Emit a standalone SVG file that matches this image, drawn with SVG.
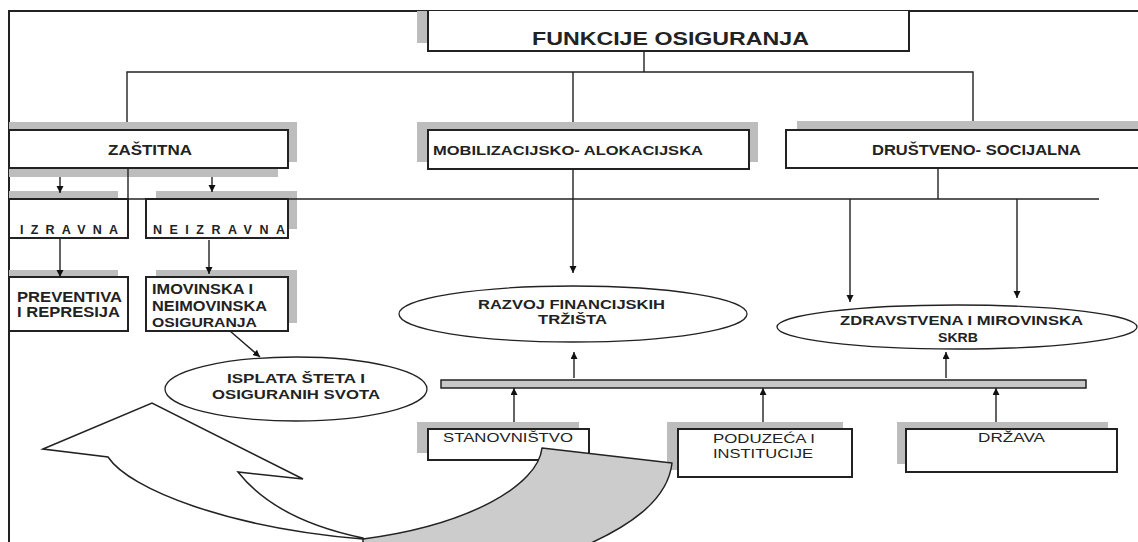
<svg xmlns="http://www.w3.org/2000/svg" width="1138" height="542" viewBox="0 0 1138 542">
<defs>
<marker id="ah" markerUnits="userSpaceOnUse" markerWidth="8" markerHeight="8" refX="7" refY="3.5" orient="auto"><path d="M0,0 L7,3.5 L0,7 z" fill="#111"/></marker>
</defs>
<style>
.sh{fill:#bdbdbd}
.box{fill:#fff;stroke:#222;stroke-width:2}
.ell{fill:#fff;stroke:#222;stroke-width:1.3}
.c{stroke:#222;stroke-width:1.4;fill:none}
.a{marker-end:url(#ah)}
text{font-family:"Liberation Sans",Arial,sans-serif;fill:#222}
.b{font-weight:bold}
.n{font-weight:normal}
</style>
<rect width="1138" height="542" fill="#fff"/>
<path d="M9,542 V11 H1138" fill="none" stroke="#222" stroke-width="2"/>

<g id="funkcije">
<rect class="sh" x="417" y="11" width="11" height="32"/>
<path d="M428,11 V51 H909 V11" fill="#fff" stroke="#222" stroke-width="2"/>
<text class="b" x="532" y="45" font-size="18" textLength="277" lengthAdjust="spacingAndGlyphs">FUNKCIJE OSIGURANJA</text>
</g>

<g id="zastitna">
<rect class="sh" x="9" y="122" width="288" height="8"/>
<rect class="sh" x="288" y="122" width="9" height="40"/>
<rect class="sh" x="9" y="168" width="269" height="9"/>
<rect class="box" x="9" y="130" width="279" height="38"/>
<text class="b" x="108" y="155" font-size="14" textLength="84" lengthAdjust="spacingAndGlyphs">ZAŠTITNA</text>
</g>

<g id="mobilizacijsko">
<rect class="sh" x="417" y="122" width="341" height="40"/>
<rect class="box" x="428" y="130" width="321" height="39"/>
<text class="b" x="433" y="155" font-size="13.5" textLength="270" lengthAdjust="spacingAndGlyphs">MOBILIZACIJSKO- ALOKACIJSKA</text>
</g>

<g id="drustveno">
<rect class="sh" x="797" y="121" width="341" height="8"/>
<rect class="box" x="786" y="130" width="360" height="38"/>
<text class="b" x="872" y="155" font-size="14" textLength="209" lengthAdjust="spacingAndGlyphs">DRUŠTVENO- SOCIJALNA</text>
</g>

<g id="izravna">
<rect class="sh" x="9" y="191" width="109" height="8"/>
<rect class="box" x="9" y="199" width="119" height="39"/>
<text class="b" x="20" y="234" font-size="12.5" textLength="98" lengthAdjust="spacing">IZRAVNA</text>
</g>

<g id="neizravna">
<rect class="sh" x="156" y="191" width="141" height="8"/>
<rect class="sh" x="288" y="191" width="9" height="38"/>
<rect class="box" x="146" y="199" width="142" height="39"/>
<text class="b" x="153" y="234" font-size="12.5" textLength="132" lengthAdjust="spacing">NEIZRAVNA</text>
</g>

<g id="preventiva">
<rect class="sh" x="9" y="270" width="109" height="7"/>
<rect class="box" x="9" y="277" width="119" height="54"/>
<text class="b" x="17" y="302" font-size="14" textLength="105" lengthAdjust="spacingAndGlyphs">PREVENTIVA</text>
<text class="b" x="17" y="317" font-size="14" textLength="103" lengthAdjust="spacingAndGlyphs">I REPRESIJA</text>
</g>

<g id="imovinska">
<rect class="sh" x="156" y="270" width="141" height="7"/>
<rect class="sh" x="288" y="270" width="9" height="53"/>
<rect class="box" x="146" y="277" width="142" height="54"/>
<text class="b" x="152" y="294" font-size="14" textLength="101" lengthAdjust="spacingAndGlyphs">IMOVINSKA I</text>
<text class="b" x="152" y="311" font-size="14" textLength="115" lengthAdjust="spacingAndGlyphs">NEIMOVINSKA</text>
<text class="b" x="152" y="327" font-size="12" textLength="105" lengthAdjust="spacingAndGlyphs">OSIGURANJA</text>
</g>

<g id="isplata">
<ellipse class="ell" cx="296" cy="389" rx="131" ry="32"/>
<text class="b" x="227" y="383" font-size="13" textLength="138" lengthAdjust="spacingAndGlyphs">ISPLATA ŠTETA I</text>
<text class="b" x="212" y="399" font-size="13" textLength="168" lengthAdjust="spacingAndGlyphs">OSIGURANIH SVOTA</text>
</g>

<g id="razvoj">
<ellipse class="ell" cx="573" cy="314" rx="174" ry="28"/>
<text class="b" x="478" y="309" font-size="13.5" textLength="187" lengthAdjust="spacingAndGlyphs">RAZVOJ FINANCIJSKIH</text>
<text class="b" x="538" y="324" font-size="13.5" textLength="69" lengthAdjust="spacingAndGlyphs">TRŽIŠTA</text>
</g>

<g id="zdravstvena">
<ellipse class="ell" cx="957" cy="327" rx="180" ry="22"/>
<text class="b" x="840" y="325" font-size="13.5" textLength="243" lengthAdjust="spacingAndGlyphs">ZDRAVSTVENA I MIROVINSKA</text>
<text class="b" x="938" y="342" font-size="13.5" textLength="40" lengthAdjust="spacingAndGlyphs">SKRB</text>
</g>

<g id="trziste-bar">
<rect x="441" y="380" width="645" height="8" fill="#c8c8c8" stroke="#222" stroke-width="1.5"/>
</g>

<g id="stanovnistvo">
<rect class="sh" x="417" y="422" width="162" height="31"/>
<rect class="box" x="428" y="429" width="161" height="31" stroke-width="1.5"/>
<text class="n" x="443" y="442" font-size="13" textLength="130" lengthAdjust="spacingAndGlyphs">STANOVNIŠTVO</text>
</g>

<g id="poduzeca">
<rect class="sh" x="667" y="422" width="176" height="48"/>
<rect class="box" x="678" y="429" width="174" height="48" stroke-width="1.5"/>
<text class="n" x="713" y="443" font-size="13" textLength="102" lengthAdjust="spacingAndGlyphs">PODUZEĆA I</text>
<text class="n" x="713" y="458" font-size="13" textLength="100" lengthAdjust="spacingAndGlyphs">INSTITUCIJE</text>
</g>

<g id="drzava">
<rect class="sh" x="897" y="422" width="211" height="42"/>
<rect class="box" x="906" y="429" width="211" height="43" stroke-width="1.5"/>
<text class="n" x="978" y="442" font-size="13" textLength="67" lengthAdjust="spacingAndGlyphs">DRŽAVA</text>
</g>

<g id="connectors">
<path class="c" d="M644,51 V72" stroke-width="2"/>
<path class="c" d="M127,122 V72 H973 V121" stroke-width="2"/>
<path class="c" d="M573,72 V122" stroke-width="2"/>
<path class="c" d="M128,168 V199"/>
<path class="c" d="M60,199 H1099" stroke-width="2"/>
<path class="c" d="M938,168 V199" stroke-width="2"/>
<path class="c a" d="M60,177 V193"/>
<path class="c a" d="M212,177 V192"/>
<path class="c a" d="M573,169 V273"/>
<path class="c a" d="M850,199 V302"/>
<path class="c a" d="M1017,199 V298"/>
<path class="c a" d="M60,238 V277"/>
<path class="c a" d="M209,240 V274"/>
<path class="c a" d="M230,331 L260,357"/>
<path class="c a" d="M574,378 V352"/>
<path class="c a" d="M946,378 V352"/>
<path class="c a" d="M514,422 V388"/>
<path class="c a" d="M763,422 V388"/>
<path class="c a" d="M996,422 V388"/>
</g>

<g id="curved-arrow">
<path d="M542,448 L672,463 C668,500 630,528 570,552 L363,552 L363,539 C470,525 538,485 542,448 Z" fill="#cccccc" stroke="#222" stroke-width="1.5" stroke-linejoin="round"/>
<path d="M43,449 L152,403 L303,479 L238,472 C260,500 300,525 363,538 L363,539 C230,528 130,490 108,457 Z" fill="#fff" stroke="#222" stroke-width="1.5" stroke-linejoin="miter"/>
</g>
</svg>
